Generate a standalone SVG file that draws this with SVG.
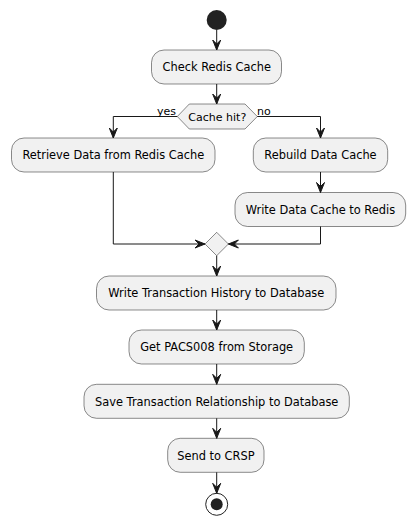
<svg xmlns="http://www.w3.org/2000/svg" width="415" height="524" viewBox="0 0 415 524">
<style>
.box{fill:#F1F1F1;stroke:#181818;stroke-width:0.5}
.t{font-family:"DejaVu Sans",sans-serif;font-size:11.4px;fill:#000;text-anchor:middle}
.lbl{font-family:"DejaVu Sans",sans-serif;font-size:11px;fill:#000}
.ln{fill:none;stroke:#181818;stroke-width:1}
.ah{fill:#181818;stroke:#181818;stroke-width:1}
</style>
<rect width="415" height="524" fill="#FFFFFF"/>
<g id="start"><circle cx="216.7" cy="20" r="10" fill="#222222"/></g>
<g id="check"><rect class="box" x="151.5" y="50" width="130" height="34" rx="12.5"/><text class="t" x="216.7" y="71.3">Check Redis Cache</text></g>
<g id="decision"><polygon class="box" points="177.3,116.5 189.3,104 245,104 257.3,116.5 245,129 189.3,129"/><text class="t" x="217.3" y="120.8" style="font-size:11px">Cache hit?</text></g>
<g id="retrieve"><rect class="box" x="11.5" y="138" width="203.5" height="34" rx="12.5"/><text class="t" x="113.3" y="159.3">Retrieve Data from Redis Cache</text></g>
<g id="rebuild"><rect class="box" x="253.3" y="138" width="134.4" height="34" rx="12.5"/><text class="t" x="320.5" y="159.3">Rebuild Data Cache</text></g>
<g id="writecache"><rect class="box" x="235" y="192.5" width="170.7" height="34" rx="12.5"/><text class="t" x="320.4" y="213.8">Write Data Cache to Redis</text></g>
<g id="merge"><polygon class="box" points="216.7,232.3 228.4,244 216.7,255.7 205,244"/></g>
<g id="history"><rect class="box" x="96.5" y="276" width="239.5" height="34" rx="12.5"/><text class="t" x="216.3" y="297.3">Write Transaction History to Database</text></g>
<g id="pacs"><rect class="box" x="129" y="330" width="175.3" height="34" rx="12.5"/><text class="t" x="216.7" y="351.3">Get PACS008 from Storage</text></g>
<g id="save"><rect class="box" x="84" y="384.3" width="265.3" height="34" rx="12.5"/><text class="t" x="216.7" y="405.6">Save Transaction Relationship to Database</text></g>
<g id="crsp"><rect class="box" x="167.7" y="438.3" width="96.3" height="34" rx="12.5"/><text class="t" x="215.9" y="459.6">Send to CRSP</text></g>
<g id="end"><circle cx="216.7" cy="504.3" r="11" fill="none" stroke="#222222" stroke-width="1"/><circle cx="216.7" cy="504.3" r="6" fill="#222222"/></g>
<g id="connectors">
<path class="ln" d="M216.7,30 V50"/>
<polygon class="ah" points="212.7,40 216.7,50 220.7,40 216.7,44"/>
<path class="ln" d="M216.7,84 V104"/>
<polygon class="ah" points="212.7,94 216.7,104 220.7,94 216.7,98"/>
<path class="ln" d="M177.3,116.5 H113.3 V138"/>
<polygon class="ah" points="109.3,128 113.3,138 117.3,128 113.3,132"/>
<path class="ln" d="M257.3,116.5 H320.5 V138"/>
<polygon class="ah" points="316.5,128 320.5,138 324.5,128 320.5,132"/>
<path class="ln" d="M320.5,172 V192.5"/>
<polygon class="ah" points="316.5,182.5 320.5,192.5 324.5,182.5 320.5,186.5"/>
<path class="ln" d="M113.3,172 V244 H205"/>
<polygon class="ah" points="195,240 205,244 195,248 199,244"/>
<path class="ln" d="M320.5,226.5 V244 H228.4"/>
<polygon class="ah" points="238.4,240 228.4,244 238.4,248 234.4,244"/>
<path class="ln" d="M216.7,255.7 V276"/>
<polygon class="ah" points="212.7,266 216.7,276 220.7,266 216.7,270"/>
<path class="ln" d="M216.7,310 V330"/>
<polygon class="ah" points="212.7,320 216.7,330 220.7,320 216.7,324"/>
<path class="ln" d="M216.7,364 V384.3"/>
<polygon class="ah" points="212.7,374.3 216.7,384.3 220.7,374.3 216.7,378.3"/>
<path class="ln" d="M216.7,418.3 V438.3"/>
<polygon class="ah" points="212.7,428.3 216.7,438.3 220.7,428.3 216.7,432.3"/>
<path class="ln" d="M216.7,472.3 V493.3"/>
<polygon class="ah" points="212.7,483.3 216.7,493.3 220.7,483.3 216.7,487.3"/>
<text class="lbl" x="176" y="114.5" text-anchor="end">yes</text>
<text class="lbl" x="257" y="114.5">no</text>
</g>
</svg>
